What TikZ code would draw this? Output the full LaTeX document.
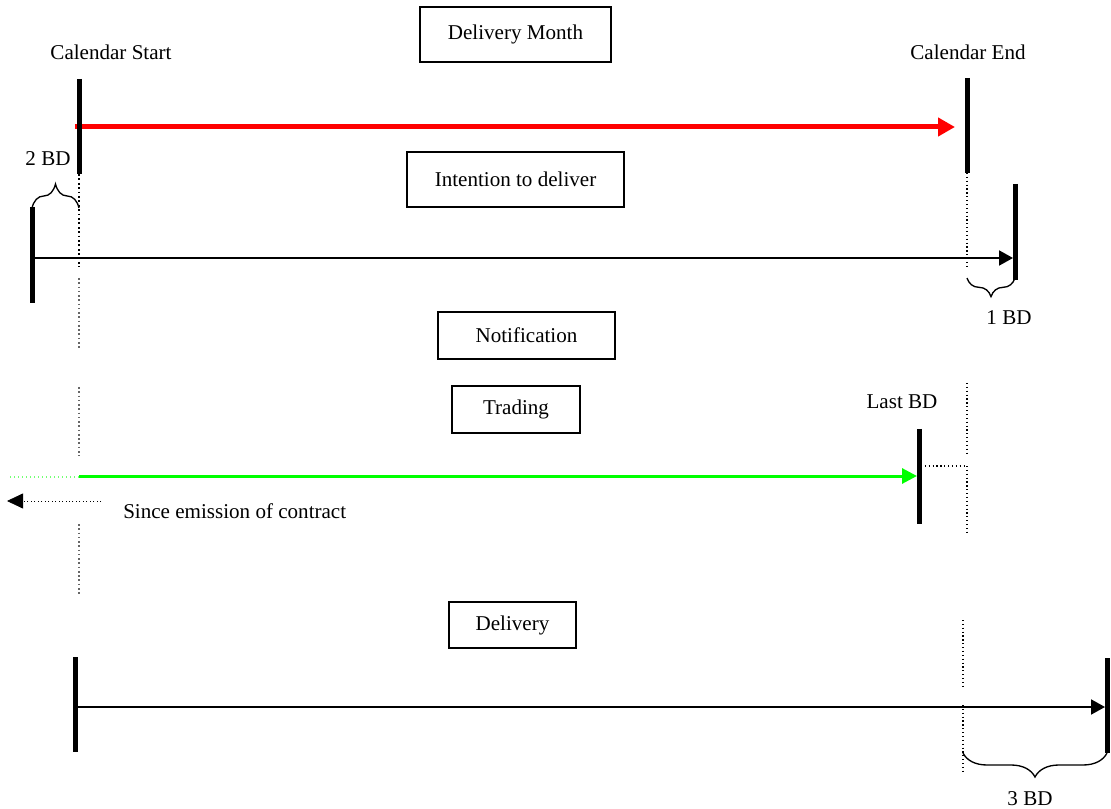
\documentclass[tikz,border=0pt]{standalone}
\usepackage{fontspec}
\setmainfont{Liberation Serif}
\usetikzlibrary{arrows.meta, decorations.pathreplacing}

\tikzset{
  box/.style={draw, line width=1pt, inner sep=0pt},
  bar/.style={line width=3.75pt},
  blackdots/.style={dotted, line width=0.9pt},
  greydots/.style={dotted, black!60, line width=1.2pt},
  bdbrace/.style={decorate, decoration={brace, amplitude=#1}, line width=1pt},
}

\begin{document}
\begin{tikzpicture}[x=0.75pt, y=-0.75pt, font=\fontsize{15.8}{19}\selectfont]
\useasboundingbox (0,0) rectangle (1111,809);

% 1. Boxes with the phases
\node[box, minimum width=143.25pt, minimum height=41.25pt] (month) at (515.5,34.5) {Delivery Month};
\node[box, minimum width=162.75pt, minimum height=41.25pt] (intent) at (515.5,179.5) {Intention to deliver};
\node[box, minimum width=132.75pt, minimum height=35.25pt] (notif) at (526.5,335.5) {Notification};
\node[box, minimum width=96pt, minimum height=35.25pt] (trading) at (516,409.5) {Trading};
\node[box, minimum width=95.25pt, minimum height=34.5pt] (delivery) at (512.5,625) {Delivery};

% 2. Free labels
\node[anchor=base] (calstart) at (111,60) {Calendar Start};
\node[anchor=base] (calend) at (968,60) {Calendar End};
\node[anchor=base] (bdtwo) at (48,166) {2 BD};
\node[anchor=base] (bdone) at (1009,325) {1 BD};
\node[anchor=base] (lastbd) at (902,409) {Last BD};
\node[anchor=base west, inner sep=0pt] (since) at (123,518) {Since emission of contract};
\node[anchor=base] (bdthree) at (1030,805) {3 BD};

% 3. End points of the bars and arrows
\coordinate (s1) at (79,79);    \coordinate (s2) at (79,174);
\coordinate (e1) at (967,78);   \coordinate (e2) at (967,173);
\coordinate (i1) at (32,207);   \coordinate (i2) at (32,303);
\coordinate (j1) at (1015,184); \coordinate (j2) at (1015,280);
\coordinate (l1) at (919,429);  \coordinate (l2) at (919,524);
\coordinate (d1) at (75,657);   \coordinate (d2) at (75,752);
\coordinate (f1) at (1107,658); \coordinate (f2) at (1107,753);

\coordinate (redA) at (75,127);   \coordinate (redB) at (955,127);
\coordinate (intA) at (33,258);   \coordinate (intB) at (1013,258);
\coordinate (grnA) at (79,476);   \coordinate (grnB) at (917,476);
\coordinate (grnO) at (10,477);   \coordinate (grnP) at (79,477);
\coordinate (delA) at (77,707);   \coordinate (delB) at (1105,707);
\coordinate (emiA) at (101,501);  \coordinate (emiB) at (7,501);

% 4. Arrows
\draw[red, line width=3.75pt, -{Triangle[length=12.75pt, width=13.5pt]}] (redA) -- (redB);
\draw[line width=1.5pt, -{Triangle[length=10.5pt, width=11.25pt]}] (intA) -- (intB);
\draw[green, line width=2.25pt, -{Triangle[length=11.25pt, width=11.25pt]}] (grnA) -- (grnB);
\draw[green!55, dotted, line width=1pt] (grnO) -- (grnP);
\draw[line width=1.5pt, -{Triangle[length=10.5pt, width=11.25pt]}] (delA) -- (delB);
\draw[dotted, line width=0.6pt, -{Triangle[length=12pt, width=11.25pt]}] (emiA) -- (emiB);

% 5. Thick bars
\foreach \b in {s,e,i,j,l,d,f}
    {\draw[bar] (\b1) -- (\b2);
    }

% 6. Dotted guide lines
\draw[blackdots, line width=1.3pt] (s2) -- (79,267);
\foreach \ya/\yb in {278/348, 387/456, 524/594}
    {\draw[greydots] (79,\ya) -- (79,\yb);
    }
\draw[blackdots] (e2) -- (967,268);
\draw[blackdots] (967,383) -- (967,453);
\draw[blackdots] (967,466) -- (967,535);
\draw[blackdots] (921,466) -- (967,466);
\draw[blackdots] (963,620) -- (963,689);
\draw[blackdots] (963,705) -- (963,773);

% 7. Braces
\draw[bdbrace=18pt] (32,208) -- (79,208);
\draw[bdbrace=14pt] (1015,278) -- (967,278);
\draw[bdbrace=18pt] (1107,753) -- (963,753);
\end{tikzpicture}
\end{document}
